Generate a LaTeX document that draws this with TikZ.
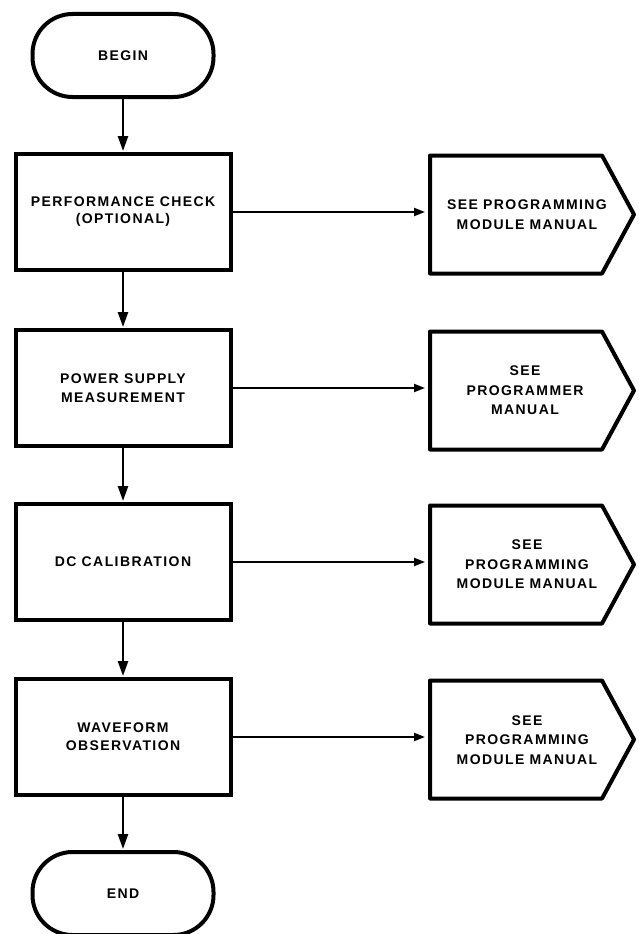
\documentclass[tikz,border=0pt]{standalone}
\usepackage{fontspec}
\usetikzlibrary{arrows.meta,calc}
\newfontfamily\labelfont[LetterSpace=10]{Liberation Sans}

\tikzset{
  lbl/.style={font=\labelfont\bfseries\fontsize{14}{19.5}\selectfont, align=center},
  terminal/.style={lbl, draw, line width=4pt, rounded corners=40pt,
    minimum width=181pt, minimum height=83pt},
  process/.style={lbl, draw, line width=4pt, minimum width=215pt, minimum height=116pt},
  reftext/.style={lbl, inner sep=0pt},
  refline/.style={line width=4pt, line join=round},
  flow/.style={line width=2.5pt, -{Triangle[length=15pt,width=10pt]}, shorten >=1pt},
  link/.style={line width=2pt, -{Triangle[length=11pt,width=8pt]}, shorten >=5pt},
}

\begin{document}
\begin{tikzpicture}[x=1pt, y=-1pt]
  \useasboundingbox (0,0) rectangle (638,934);

  % main column
  \node[terminal] (begin) at (123,55.5) {BEGIN};
  \node[process] (p1) at (123,212) {PERFORMANCE CHECK\\[-2.5pt](OPTIONAL)};
  \node[process] (p2) at (123,388) {POWER SUPPLY\\MEASUREMENT};
  \node[process] (p3) at (123,562) {DC CALIBRATION};
  \node[process] (p4) at (123,737) {WAVEFORM\\[-1.5pt]OBSERVATION};
  \node[terminal] (end) at (123,893.5) {END};

  \draw[flow] (begin) -- (p1);
  \draw[flow] (p1) -- (p2);
  \draw[flow] (p2) -- (p3);
  \draw[flow] (p3) -- (p4);
  \draw[flow] (p4) -- (end);

  % off-page references
  \node[reftext] (r1) at (527,214.5) {SEE PROGRAMMING\\MODULE MANUAL};
  \node[reftext] (r2) at (525,390.5) {SEE\\PROGRAMMER\\MANUAL};
  \node[reftext] (r3) at (527,564.5) {SEE\\PROGRAMMING\\MODULE MANUAL};
  \node[reftext] (r4) at (527,740) {SEE\\PROGRAMMING\\MODULE MANUAL};

  \foreach \r/\yy in {r1/214.5, r2/390.5, r3/564.5, r4/739.5} {
    \coordinate (\r c) at (516,\yy);
    \draw[refline] ($(\r c)+(-86,-59)$) -- ($(\r c)+(86,-59)$) -- ($(\r c)+(118,0)$)
      -- ($(\r c)+(86,59)$) -- ($(\r c)+(-86,59)$) -- cycle;
    \coordinate (\r w) at ($(\r c)+(-86,0)$);
  }

  \draw[link] (p1.east) -- (p1.east -| r1w);
  \draw[link] (p2.east) -- (p2.east -| r2w);
  \draw[link] (p3.east) -- (p3.east -| r3w);
  \draw[link] (p4.east) -- (p4.east -| r4w);
\end{tikzpicture}
\end{document}
